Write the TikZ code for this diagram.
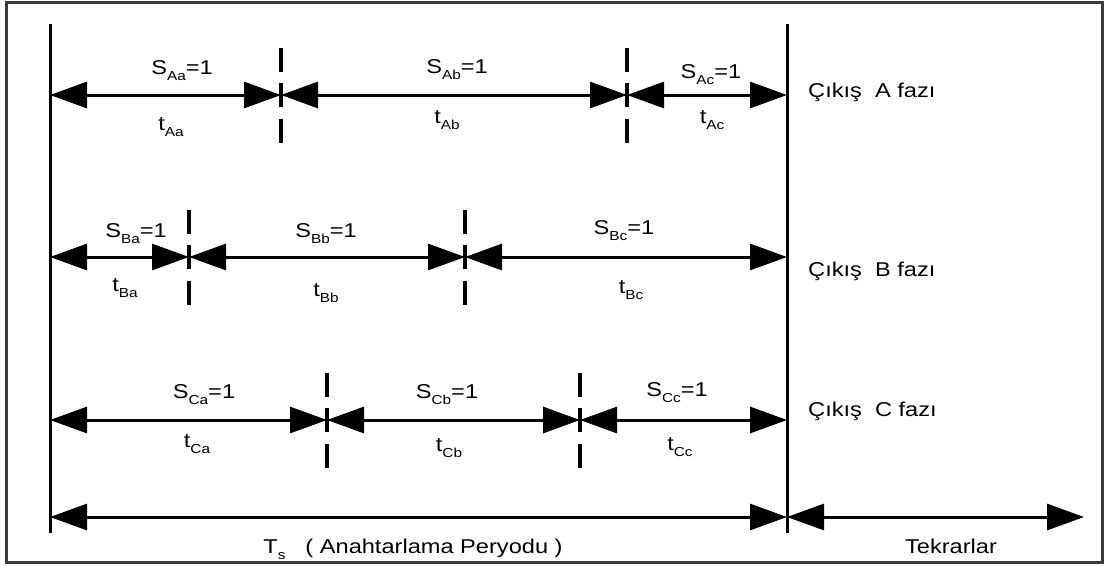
\documentclass[tikz,border=0pt]{standalone}
\usepackage{fontspec}
\setmainfont{Liberation Sans}[FakeStretch=1.18]
\usetikzlibrary{arrows.meta}
\definecolor{framegray}{HTML}{3A3A3A}
\newcommand{\sgn}[2]{#1\raisebox{-0.33em}{\fontsize{13}{13}\selectfont #2}}

\begin{document}
\begin{tikzpicture}[x=1pt, y=-1pt, font=\fontsize{20}{22}\selectfont,
  span/.style={{Triangle[length=37pt, width=26pt]}-{Triangle[length=37pt, width=26pt]}, line width=3pt},
  rule/.style={line width=3pt},
  cut/.style={line width=3.5pt, dash pattern=on 24pt off 11.5pt},
  lbl/.style={anchor=base, inner sep=0pt}]

\useasboundingbox (0,0) rectangle (1105,565);

% ---- frame and period borders -------------------------------------------
\draw[framegray, line width=3pt] (6,2) rectangle (1102,562);
\coordinate (Ltop) at (50,24);
\coordinate (Lbot) at (50,533);
\coordinate (Rtop) at (787,24);
\coordinate (Rbot) at (787,533);
\draw[rule] (Ltop) -- (Lbot);
\draw[rule] (Rtop) -- (Rbot);

% ---- one row of intervals per phase ------------------------------------
\foreach \r/\y/\p/\q in {A/95/281/627, B/257/189/465, C/420/327/580} {
  \coordinate (\r0) at (50,\y);
  \coordinate (\r1) at (\p,\y);
  \coordinate (\r2) at (\q,\y);
  \coordinate (\r3) at (787,\y);
  \draw[span] (\r0) -- (\r1);
  \draw[span] (\r1) -- (\r2);
  \draw[span] (\r2) -- (\r3);
  \draw[cut] ([yshift=47.5pt]\r1) -- ([yshift=-47.5pt]\r1);
  \draw[cut] ([yshift=47.5pt]\r2) -- ([yshift=-47.5pt]\r2);
}

% ---- switch states and durations ---------------------------------------
\foreach \n/\x/\y in {Aa/182/74, Ab/457/73, Ac/711/78,
                      Ba/136/237, Bb/326/237, Bc/624/234,
                      Ca/204/398, Cb/447/398, Cc/677/396}
  \node[lbl] (s\n) at (\x,\y) {\sgn{S}{\n}=1};
\foreach \n/\x/\y in {Aa/171/130, Ab/447/123, Ac/712/123,
                      Ba/125/291, Bb/326/296, Bc/631/293,
                      Ca/197/447, Cb/449/451, Cc/680/450}
  \node[lbl] (t\n) at (\x,\y) {\sgn{t}{\n}};

% ---- phase names -------------------------------------------------------
\node[lbl, anchor=base west] (phA) at (808,97) {Çıkış\ \ A\ fazı};
\node[lbl, anchor=base west] (phB) at (808,276) {Çıkış\ \ B\ fazı};
\node[lbl, anchor=base west] (phC) at (808,416) {Çıkış\ \ C\ fazı};

% ---- switching period and repeats --------------------------------------
\coordinate (T0) at (50,517);
\coordinate (T1) at (787,517);
\coordinate (T2) at (1084,517);
\draw[span] (T0) -- (T1);
\draw[span] (T1) -- (T2);
\node[lbl] (period) at (413,553) {\sgn{T}{s}\quad( Anahtarlama Peryodu )};
\node[lbl] (repeat) at (951,553) {Tekrarlar};
\end{tikzpicture}
\end{document}
